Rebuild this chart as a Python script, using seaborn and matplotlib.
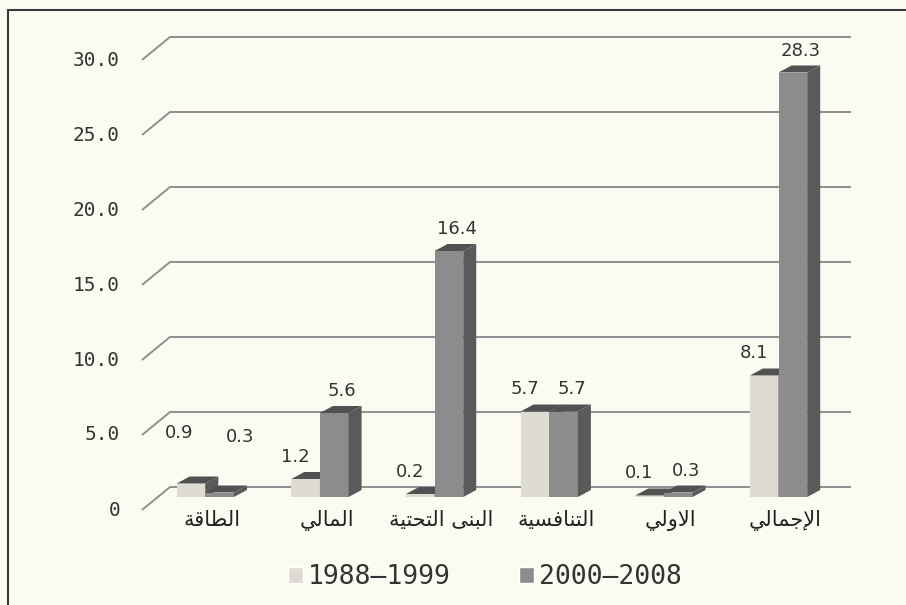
import matplotlib
matplotlib.use("Agg")
import matplotlib.pyplot as plt
from matplotlib.patches import Polygon, Patch
from matplotlib.lines import Line2D
import pandas as pd
import seaborn as sns

# chart data
sectors = ["الطاقة", "المالي", "البنى التحتية", "التنافسية", "الاولي", "الإجمالي"]
periods = ["1988–1999", "2000–2008"]
values_1988_1999 = [0.9, 1.2, 0.2, 5.7, 0.1, 8.1]
values_2000_2008 = [0.3, 5.6, 16.4, 5.7, 0.3, 28.3]
y_ticks = [0, 5, 10, 15, 20, 25, 30]
y_tick_labels = ["0", "5.0", "10.0", "15.0", "20.0", "25.0", "30.0"]

light = "#dedbd2"
dark = "#8c8c8c"
shade = "#515151"
grid_col = "#8f8f8f"
paper = "#fcfbf2"

# matplotlib does no Arabic shaping, so map letters to their joined forms
FORMS = {
    "ا": ("\uFE8D", "\uFE8E", None, None),
    "إ": ("\uFE87", "\uFE88", None, None),
    "ب": ("\uFE8F", "\uFE90", "\uFE91", "\uFE92"),
    "ة": ("\uFE93", "\uFE94", None, None),
    "ت": ("\uFE95", "\uFE96", "\uFE97", "\uFE98"),
    "ج": ("\uFE9D", "\uFE9E", "\uFE9F", "\uFEA0"),
    "ح": ("\uFEA1", "\uFEA2", "\uFEA3", "\uFEA4"),
    "س": ("\uFEB1", "\uFEB2", "\uFEB3", "\uFEB4"),
    "ط": ("\uFEC1", "\uFEC2", "\uFEC3", "\uFEC4"),
    "ف": ("\uFED1", "\uFED2", "\uFED3", "\uFED4"),
    "ق": ("\uFED5", "\uFED6", "\uFED7", "\uFED8"),
    "ل": ("\uFEDD", "\uFEDE", "\uFEDF", "\uFEE0"),
    "م": ("\uFEE1", "\uFEE2", "\uFEE3", "\uFEE4"),
    "ن": ("\uFEE5", "\uFEE6", "\uFEE7", "\uFEE8"),
    "و": ("\uFEED", "\uFEEE", None, None),
    "ى": ("\uFEEF", "\uFEF0", None, None),
    "ي": ("\uFEF1", "\uFEF2", "\uFEF3", "\uFEF4"),
}
LAM_ALEF = {"ا": ("\uFEFB", "\uFEFC", None, None), "إ": ("\uFEF9", "\uFEFA", None, None)}


def shape_arabic(text):
    units = []
    i = 0
    while i < len(text):
        ch = text[i]
        if ch == "ل" and i + 1 < len(text) and text[i + 1] in LAM_ALEF:
            units.append(LAM_ALEF[text[i + 1]])
            i += 2
        else:
            units.append(FORMS.get(ch, ch))
            i += 1
    out = []
    for k, u in enumerate(units):
        if isinstance(u, str):
            out.append(u)
            continue
        prev = units[k - 1] if k > 0 else None
        nxt = units[k + 1] if k + 1 < len(units) else None
        join_prev = isinstance(prev, tuple) and prev[2] is not None
        join_next = isinstance(nxt, tuple) and u[2] is not None
        if join_prev and join_next:
            out.append(u[3])
        elif join_prev:
            out.append(u[1])
        elif join_next:
            out.append(u[2])
        else:
            out.append(u[0])
    return "".join(reversed(out))


df = pd.DataFrame({
    "sector": sectors * 2,
    "period": [periods[0]] * len(sectors) + [periods[1]] * len(sectors),
    "value": values_1988_1999 + values_2000_2008,
})

sns.set_theme(style="white", rc={"figure.facecolor": paper, "axes.facecolor": paper})
plt.rcParams["font.family"] = ["DejaVu Sans"]

fig = plt.figure(figsize=(9.06, 6.05), dpi=100)
ax = fig.add_axes([156 / 906, 108 / 605, 681 / 906, 450 / 605])

sns.barplot(data=df, x="sector", y="value", hue="period", order=sectors,
            hue_order=periods, palette=[light, dark], width=0.5, saturation=1,
            linewidth=0, legend=False, ax=ax)

x0, x1 = -0.43, 5.51
ax.set_xlim(x0, x1)
ax.set_ylim(0, 30)
ax.set_axis_off()

# pixel -> data units
PX = (x1 - x0) / 681
PY = 30 / 450

# back wall grid lines with slanted left ends, plus tick labels
for t, lab in zip(y_ticks, y_tick_labels):
    yf, yb = t - 13 * PY, t + 10 * PY
    xf, xb = x0 - 14 * PX, x0 + 14 * PX
    ax.plot([xf, xb, x1 + 14 * PX], [yf, yb, yb], color=grid_col, lw=1.4,
            clip_on=False, zorder=1, solid_capstyle="butt")
    ax.text(xf - 22 * PX, yf, lab, ha="right", va="center",
            family="DejaVu Sans Mono", size=14, color="#333333")

# extrude the bars: top and side faces
dx, dy = 13 * PX, 7 * PY
for j, cont in enumerate(ax.containers):
    z = 2 + j
    for i, bar in enumerate(cont):
        bar.set_zorder(z)
        bx, w, h = bar.get_x(), bar.get_width(), bar.get_height()
        top = Polygon([(bx, h), (bx + w, h), (bx + w + dx, h + dy), (bx + dx, h + dy)],
                      closed=True, facecolor=shade, edgecolor="none", zorder=z)
        side = Polygon([(bx + w, 0), (bx + w + dx, dy), (bx + w + dx, h + dy), (bx + w, h)],
                       closed=True, facecolor="#5a5a5a", edgecolor="none", zorder=z)
        ax.add_patch(top)
        ax.add_patch(side)

        # value labels
        nx = -10 if j == 0 else 8
        ny = 22
        if i == 0:
            nx += -2 if j == 0 else 12
            ny += 28 if j == 0 else 34
        ax.text(bx + w / 2 + nx * PX, h + ny * PY, f"{h:.1f}", ha="center",
                va="center", size=13, color="#333333", zorder=6)

# category labels
for i, s in enumerate(sectors):
    ax.text(i + 7 * PX, -13 * PY, shape_arabic(s), ha="center", va="top",
            family="DejaVu Sans", size=15, color="#222222", clip_on=False)

# legend
handles = [Patch(facecolor=light), Patch(facecolor=dark)]
fig.legend(handles, periods, loc="center", bbox_to_anchor=(485 / 906, 1 - 577 / 605),
           ncol=2, frameon=False, prop={"family": "DejaVu Sans Mono", "size": 19},
           handlelength=0.55, handleheight=0.55, handletextpad=0.2,
           columnspacing=2.6, labelcolor="#333333")

# page frame (top and left edges)
fig.add_artist(Line2D([8 / 906, 1], [1 - 10 / 605] * 2, transform=fig.transFigure,
                      color="#3a3a3a", lw=1.5))
fig.add_artist(Line2D([8 / 906] * 2, [0, 1 - 10 / 605], transform=fig.transFigure,
                      color="#3a3a3a", lw=1.5))

fig.savefig("out.png", dpi=100, facecolor=paper)
